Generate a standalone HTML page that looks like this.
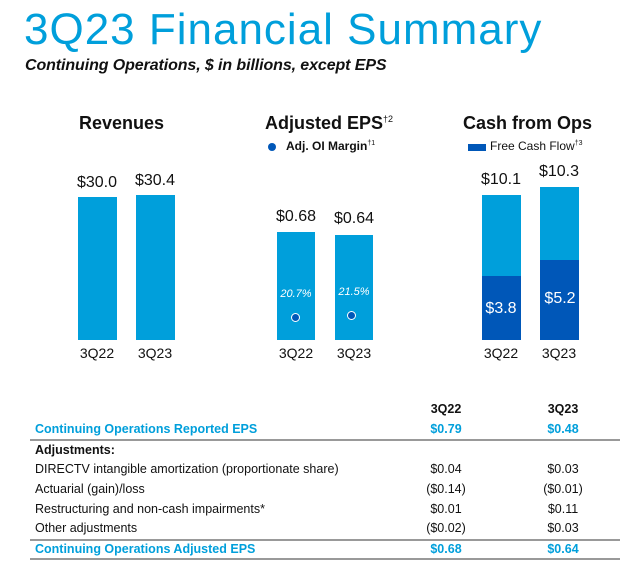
<!DOCTYPE html>
<html><head><meta charset="utf-8"><style>
body{margin:0;width:640px;height:564px;background:#fff;position:relative;overflow:hidden;font-family:"Liberation Sans",sans-serif;color:#111}
div{position:absolute}
.bar{background:#009fdb}
.dk{background:#0057b8}
.v{font-size:16px;text-align:center;width:60px}
.c{font-size:14px;text-align:center;width:60px}
.h{font-size:18px;font-weight:bold}
.t{font-size:12.5px;left:35px}
.b{color:#009fdb;font-weight:bold}
.n{font-size:12.5px;text-align:center;width:80px}
.ln{left:30px;width:590px;height:2px;background:#999}
</style></head><body>
<div style="left:24px;top:5px;font-size:44px;color:#009fdb;letter-spacing:1px">3Q23 Financial Summary</div>
<div style="left:25px;top:57px;font-size:16px;font-style:italic;font-weight:bold;color:#111;letter-spacing:-0.1px">Continuing Operations, $ in billions, except EPS</div>

<div class="h" style="left:79px;top:113px">Revenues</div>
<div class="v" style="left:67px;top:174px">$30.0</div>
<div class="v" style="left:125px;top:172px">$30.4</div>
<div class="bar" style="left:78px;top:197px;width:39px;height:143px"></div>
<div class="bar" style="left:136px;top:195px;width:39px;height:145px"></div>
<div class="c" style="left:67px;top:345px">3Q22</div>
<div class="c" style="left:125px;top:345px">3Q23</div>

<div class="h" style="left:265px;top:113px">Adjusted EPS<sup style="font-size:9px;font-weight:normal">†2</sup></div>
<div style="left:268px;top:143px;width:8px;height:8px;border-radius:50%;background:#0057b8"></div>
<div style="left:286px;top:139px;font-size:12px;font-weight:bold">Adj. OI Margin<sup style="font-size:7px;font-weight:normal">†1</sup></div>
<div class="v" style="left:266px;top:208px">$0.68</div>
<div class="v" style="left:324px;top:210px">$0.64</div>
<div class="bar" style="left:277px;top:232px;width:38px;height:108px"></div>
<div class="bar" style="left:335px;top:235px;width:38px;height:105px"></div>
<div style="left:277px;top:288px;width:38px;text-align:center;color:#fff;font-size:11px;font-style:italic">20.7%</div>
<div style="left:335px;top:286px;width:38px;text-align:center;color:#fff;font-size:11px;font-style:italic">21.5%</div>
<div style="left:291px;top:313px;width:7px;height:7px;border-radius:50%;border:1.5px solid #fff;background:#0057b8"></div>
<div style="left:347px;top:311px;width:7px;height:7px;border-radius:50%;border:1.5px solid #fff;background:#0057b8"></div>
<div class="c" style="left:266px;top:345px">3Q22</div>
<div class="c" style="left:324px;top:345px">3Q23</div>

<div class="h" style="left:463px;top:113px">Cash from Ops</div>
<div style="left:468px;top:144px;width:18px;height:7px;background:#0057b8"></div>
<div style="left:490px;top:139px;font-size:12px">Free Cash Flow<sup style="font-size:7px">†3</sup></div>
<div class="v" style="left:471px;top:171px">$10.1</div>
<div class="v" style="left:529px;top:163px">$10.3</div>
<div class="bar" style="left:482px;top:195px;width:39px;height:145px"></div>
<div class="dk" style="left:482px;top:276px;width:39px;height:64px"></div>
<div class="bar" style="left:540px;top:187px;width:39px;height:153px"></div>
<div class="dk" style="left:540px;top:260px;width:39px;height:80px"></div>
<div class="v" style="left:471px;top:300px;color:#fff">$3.8</div>
<div class="v" style="left:530px;top:290px;color:#fff">$5.2</div>
<div class="c" style="left:471px;top:345px">3Q22</div>
<div class="c" style="left:529px;top:345px">3Q23</div>

<div class="n" style="left:406px;top:402px;font-weight:bold">3Q22</div>
<div class="n" style="left:523px;top:402px;font-weight:bold">3Q23</div>
<div class="t b" style="top:422px">Continuing Operations Reported EPS</div>
<div class="n b" style="left:406px;top:422px">$0.79</div>
<div class="n b" style="left:523px;top:422px">$0.48</div>
<div class="ln" style="top:439px"></div>
<div class="t" style="top:443px;font-weight:bold">Adjustments:</div>
<div class="t" style="top:462px">DIRECTV intangible amortization (proportionate share)</div>
<div class="n" style="left:406px;top:462px">$0.04</div>
<div class="n" style="left:523px;top:462px">$0.03</div>
<div class="t" style="top:482px">Actuarial (gain)/loss</div>
<div class="n" style="left:406px;top:482px">($0.14)</div>
<div class="n" style="left:523px;top:482px">($0.01)</div>
<div class="t" style="top:502px">Restructuring and non-cash impairments*</div>
<div class="n" style="left:406px;top:502px">$0.01</div>
<div class="n" style="left:523px;top:502px">$0.11</div>
<div class="t" style="top:521px">Other adjustments</div>
<div class="n" style="left:406px;top:521px">($0.02)</div>
<div class="n" style="left:523px;top:521px">$0.03</div>
<div class="ln" style="top:539px"></div>
<div class="t b" style="top:542px">Continuing Operations Adjusted EPS</div>
<div class="n b" style="left:406px;top:542px">$0.68</div>
<div class="n b" style="left:523px;top:542px">$0.64</div>
<div class="ln" style="top:558px"></div>
</body></html>
